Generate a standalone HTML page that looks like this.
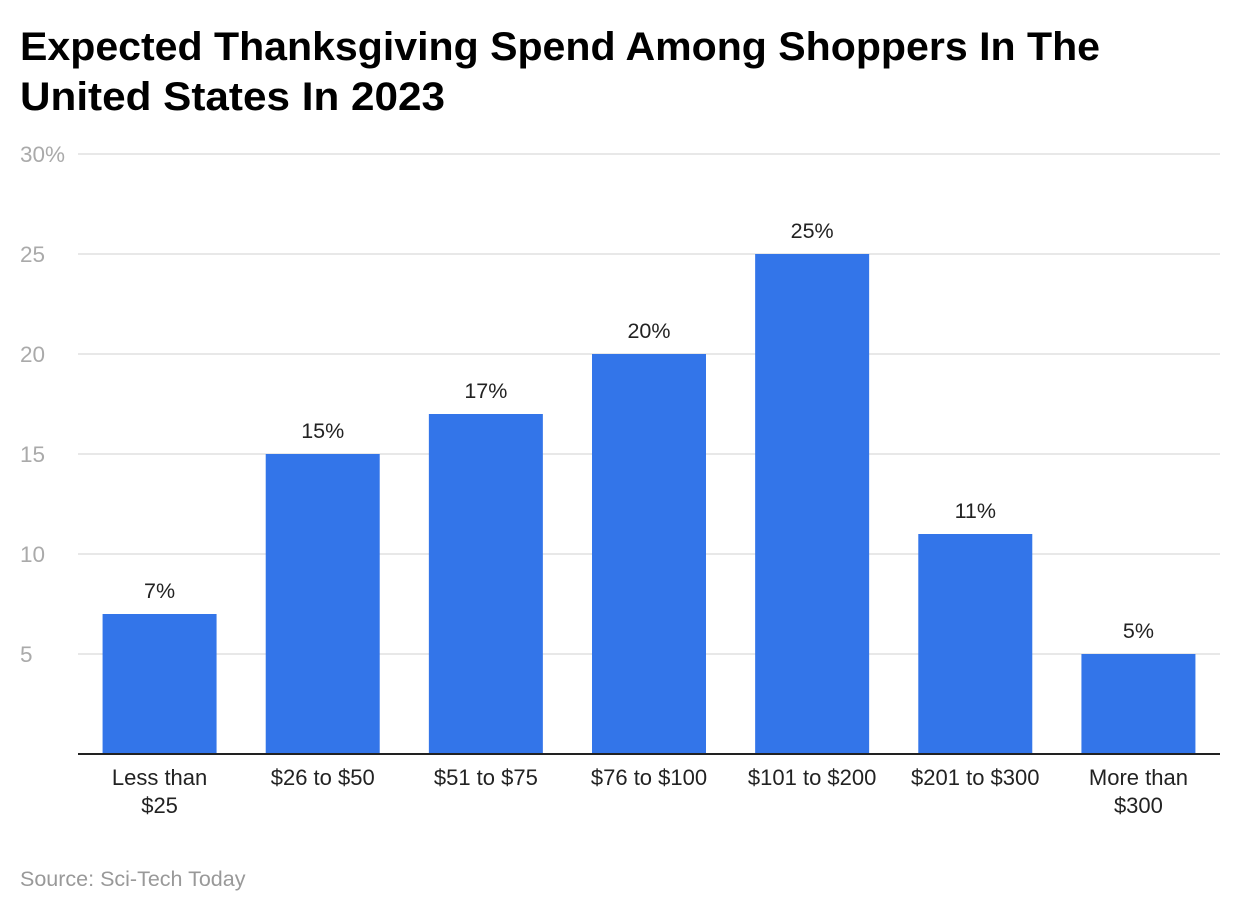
<!DOCTYPE html>
<html><head><meta charset="utf-8"><style>
body{margin:0;background:#fff;font-family:"Liberation Sans",Arial,sans-serif;}
svg{display:block}
</style></head><body>
<svg width="1240" height="912">
<text x="20" y="60" font-size="40" font-weight="bold" fill="#000" textLength="1080" lengthAdjust="spacingAndGlyphs">Expected Thanksgiving Spend Among Shoppers In The</text>
<text x="20" y="110" font-size="40" font-weight="bold" fill="#000" textLength="425" lengthAdjust="spacingAndGlyphs">United States In 2023</text>
<g id="grid"></g><g id="bars"></g><g id="xlabels"></g>
<text x="20" y="886" font-size="21.5" fill="#999">Source: Sci-Tech Today</text>
</svg>
<script>
const categories=[["Less than","$25"],["$26 to $50"],["$51 to $75"],["$76 to $100"],["$101 to $200"],["$201 to $300"],["More than","$300"]];
const values=[7,15,17,20,25,11,5];
const valueLabels=["7%","15%","17%","20%","25%","11%","5%"];
const ticks=[5,10,15,20,25,30];
const tickLabels=["5","10","15","20","25","30%"];
const NS="http://www.w3.org/2000/svg";
const L=78,R=1220,T=154,B=754,MAX=30;
const y=v=>B-(B-T)*v/MAX;
const band=(R-L)/categories.length;
const xc=i=>L+band*(i+0.5);
const bw=114;
function mk(t,a,p){const e=document.createElementNS(NS,t);for(const k in a)e.setAttribute(k,a[k]);p.appendChild(e);return e;}
const g=document.getElementById('grid');
ticks.forEach((t,i)=>{
 const l=mk('line',{x1:L,x2:R,y1:y(t),y2:y(t),stroke:'#e0e0e0','stroke-width':1.5},g);
 
 
 const tx=mk('text',{x:20,y:y(t)+8,'font-size':22.5,fill:'#aaa'},g);tx.textContent=tickLabels[i];
 
 
});
const bg=document.getElementById('bars');
values.forEach((v,i)=>{
 const r=mk('rect',{x:xc(i)-bw/2,y:y(v),width:bw,height:B-y(v),fill:'#3375E9'},bg);
 
 
 const t=mk('text',{x:xc(i),y:y(v)-16,'font-size':21.5,fill:'#222','text-anchor':'middle'},bg);t.textContent=valueLabels[i];
 
 
});
const ax=mk('line',{x1:L,x2:R,y1:B,y2:B,stroke:'#222','stroke-width':2},bg);


const xl=document.getElementById('xlabels');
categories.forEach((c,i)=>{
 c.forEach((s,j)=>{
  const t=mk('text',{x:xc(i),y:785+j*28,'font-size':22,fill:'#222','text-anchor':'middle'},xl);t.textContent=s;
  
  
 });
});
</script>
</body></html>
